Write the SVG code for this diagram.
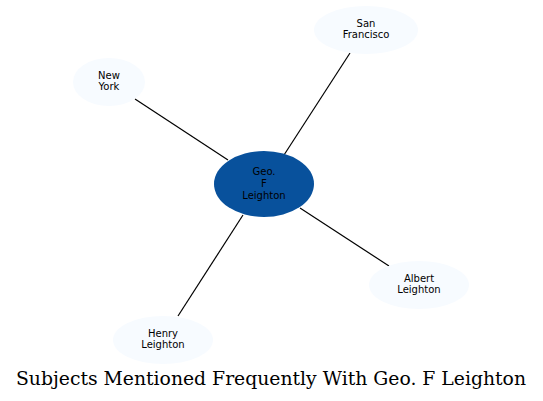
<svg xmlns="http://www.w3.org/2000/svg" width="543" height="401" viewBox="0 0 543 401">
<style>
.n{fill:#f7fbff;stroke:none}
.c{fill:#08519c;stroke:none}
.l{font-family:"DejaVu Sans",sans-serif;font-size:10px;fill:#000;text-anchor:middle}
.e{stroke:#000;stroke-width:1.2;fill:none}
.t{font-family:"DejaVu Serif",serif;font-size:18.5px;fill:#000;text-anchor:middle}
</style>
<rect width="543" height="401" fill="#fff"/>
<g id="edges">
<line class="e" x1="135" y1="99" x2="228" y2="160"/>
<line class="e" x1="350" y1="53" x2="284" y2="155"/>
<line class="e" x1="300" y1="208" x2="389" y2="266"/>
<line class="e" x1="243" y1="215" x2="178" y2="316"/>
</g>
<g id="n-center">
<ellipse class="c" cx="264" cy="184" rx="50" ry="33"/>
<text class="l" x="264" y="175">Geo.</text>
<text class="l" x="264" y="187">F</text>
<text class="l" x="264" y="199">Leighton</text>
</g>
<g id="n-sf">
<ellipse class="n" cx="366" cy="30" rx="52" ry="24"/>
<text class="l" x="366" y="27">San</text>
<text class="l" x="366" y="38">Francisco</text>
</g>
<g id="n-ny">
<ellipse class="n" cx="109" cy="82" rx="36" ry="24"/>
<text class="l" x="109" y="79">New</text>
<text class="l" x="109" y="90">York</text>
</g>
<g id="n-albert">
<ellipse class="n" cx="419" cy="285" rx="50" ry="24"/>
<text class="l" x="419" y="282">Albert</text>
<text class="l" x="419" y="293">Leighton</text>
</g>
<g id="n-henry">
<ellipse class="n" cx="163" cy="340" rx="50" ry="24"/>
<text class="l" x="163" y="337">Henry</text>
<text class="l" x="163" y="348">Leighton</text>
</g>
<text class="t" x="271" y="385" textLength="510" lengthAdjust="spacingAndGlyphs">Subjects Mentioned Frequently With Geo. F Leighton</text>
</svg>
